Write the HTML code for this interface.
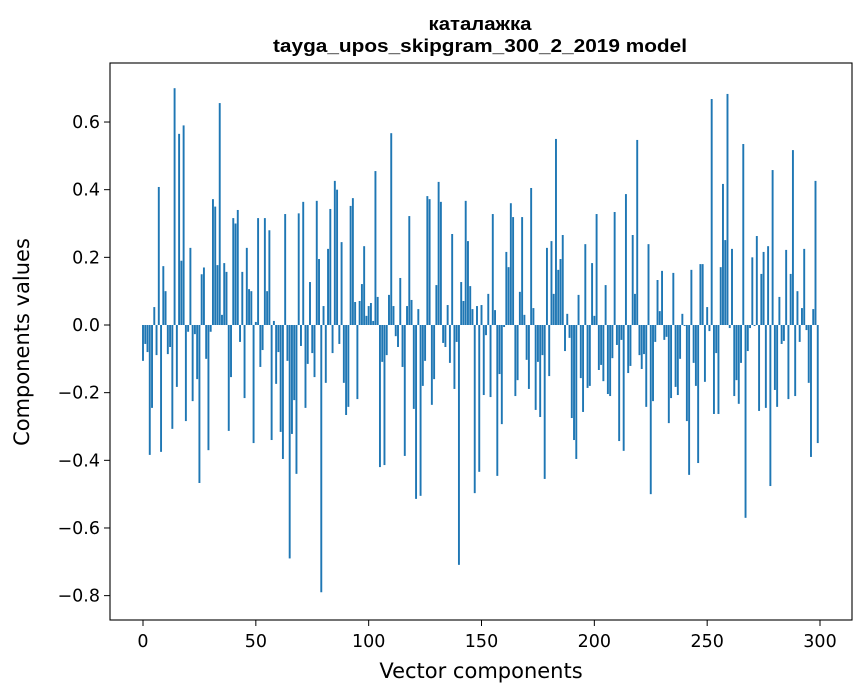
<!DOCTYPE html>
<html><head><meta charset="utf-8">
<style>
html,body{margin:0;padding:0;background:#fff;}
svg{display:block;font-family:"DejaVu Sans","Liberation Sans",sans-serif;}
</style></head>
<body>
<svg id="chart" width="867" height="696" viewBox="0 0 867 696" xmlns="http://www.w3.org/2000/svg">
<rect x="0" y="0" width="867" height="696" fill="#fff"/>
<text x="480" y="30" text-anchor="middle" font-size="18" font-weight="bold" font-family="Liberation Sans, sans-serif" textLength="103" lengthAdjust="spacingAndGlyphs">каталажка</text>
<text x="480" y="52" text-anchor="middle" font-size="18" font-weight="bold" font-family="Liberation Sans, sans-serif" textLength="414" lengthAdjust="spacingAndGlyphs">tayga_upos_skipgram_300_2_2019 model</text>
<g id="bars"></g>
<g id="xticks"></g>
<g id="yticks"></g>
<rect x="110" y="63" width="742" height="557" fill="none" stroke="#000" stroke-width="1.1"/>
<text x="481" y="678" text-anchor="middle" font-size="21">Vector components</text>
<text transform="translate(29,342) rotate(-90)" text-anchor="middle" font-size="21">Components values</text>
</svg>
<script>
const values = [
-0.106,-0.056,-0.08,-0.384,-0.245,0.053,-0.089,0.408,-0.375,0.174,
0.10,-0.086,-0.065,-0.307,0.70,-0.183,0.565,0.19,0.59,-0.284,
-0.02,0.228,-0.225,-0.027,-0.16,-0.467,0.15,0.17,-0.10,-0.37,
-0.02,0.372,0.35,0.177,0.656,0.03,0.183,0.157,-0.313,-0.154,
0.316,0.30,0.34,-0.05,0.157,-0.216,0.228,0.106,0.10,-0.349,
0.009,0.316,-0.124,-0.074,0.316,0.10,0.28,-0.34,0.012,-0.174,
-0.08,-0.316,-0.396,0.328,-0.106,-0.69,-0.322,-0.222,-0.44,0.33,
-0.062,0.364,-0.245,-0.115,0.127,-0.083,-0.154,0.367,0.195,-0.79,
0.056,-0.171,0.225,0.343,-0.083,0.426,0.40,-0.056,0.245,-0.171,
-0.266,-0.242,0.352,0.375,0.068,-0.219,0.071,0.121,0.233,0.027,
0.056,0.065,0.012,0.455,0.083,-0.42,-0.109,-0.414,-0.089,0.089,
0.567,0.056,-0.033,-0.065,0.139,-0.124,-0.387,0.056,0.322,0.074,
-0.248,-0.514,0.047,-0.505,-0.18,-0.106,0.381,0.372,-0.236,-0.16,
0.118,0.423,0.364,-0.053,-0.065,0.059,-0.112,0.269,-0.189,-0.05,
-0.709,0.127,0.071,0.367,0.248,0.115,0.047,-0.497,0.056,-0.434,
0.059,-0.207,-0.03,0.092,-0.213,0.328,0.044,-0.446,-0.145,-0.293,
-0.006,0.216,0.171,0.36,0.319,-0.21,-0.163,0.098,0.319,0.03,
-0.103,-0.189,0.405,0.05,-0.251,-0.109,-0.272,-0.089,-0.455,0.228,
-0.151,0.248,0.092,0.55,0.163,0.195,0.266,-0.077,0.033,-0.038,
-0.275,-0.34,-0.396,0.089,-0.157,-0.257,0.239,-0.186,-0.18,0.183,
0.027,0.328,-0.133,-0.118,-0.166,0.118,-0.204,-0.21,-0.098,0.334,
-0.059,-0.343,-0.044,-0.372,0.387,-0.142,-0.121,0.266,0.092,0.547,
-0.089,-0.13,-0.086,-0.242,0.239,-0.5,-0.225,-0.05,0.133,0.041,
0.16,-0.044,-0.035,-0.29,-0.216,0.154,-0.183,-0.207,-0.10,0.033,
-0.003,-0.284,-0.443,0.163,-0.112,-0.18,-0.408,0.18,0.18,-0.168,
0.053,-0.018,0.668,-0.263,-0.083,-0.263,0.171,0.417,0.251,0.683,
-0.009,0.225,-0.21,-0.163,-0.233,-0.112,0.535,-0.57,-0.077,-0.009,
0.2,-0.003,0.263,-0.254,0.151,0.216,-0.245,0.233,-0.476,0.458,
-0.192,-0.242,0.083,-0.056,-0.047,0.222,-0.219,0.151,0.517,-0.21,
0.10,-0.05,0.05,0.225,-0.015,-0.171,-0.39,0.047,0.426,-0.349
];
const xTickValues = [0,50,100,150,200,250,300];
const yTickValues = [-0.8,-0.6,-0.4,-0.2,0.0,0.2,0.4,0.6];
const yTickLabels = ["\u22120.8","\u22120.6","\u22120.4","\u22120.2","0.0","0.2","0.4","0.6"];

const NS = "http://www.w3.org/2000/svg";
const X0 = 143, XS = 2.2567;
const Y0 = 325, YS = 338.3;
function xScale(v){ return X0 + v*XS; }
function yScale(v){ return Y0 - v*YS; }

const barsG = document.getElementById('bars');
values.forEach(function(v,i){
  const r = document.createElementNS(NS,'rect');
  const w = 0.85*XS;
  const y1 = yScale(Math.max(v,0)), y2 = yScale(Math.min(v,0));
  r.setAttribute('x', xScale(i)-w/2);
  r.setAttribute('y', y1);
  r.setAttribute('width', w);
  r.setAttribute('height', Math.max(y2-y1,0.01));
  r.setAttribute('fill', '#1f77b4');
  
  
  barsG.appendChild(r);
});

const xg = document.getElementById('xticks');
xTickValues.forEach(function(t){
  const x = xScale(t);
  const l = document.createElementNS(NS,'line');
  l.setAttribute('x1',x); l.setAttribute('x2',x);
  l.setAttribute('y1',620); l.setAttribute('y2',626);
  l.setAttribute('stroke','#000');
  
  
  xg.appendChild(l);
  const tx = document.createElementNS(NS,'text');
  tx.setAttribute('x',x); tx.setAttribute('y',647);
  tx.setAttribute('text-anchor','middle'); tx.setAttribute('font-size','17.5');
  tx.textContent = String(t);
  
  
  xg.appendChild(tx);
});

const yg = document.getElementById('yticks');
yTickValues.forEach(function(t,i){
  const y = yScale(t);
  const l = document.createElementNS(NS,'line');
  l.setAttribute('x1',104); l.setAttribute('x2',110);
  l.setAttribute('y1',y); l.setAttribute('y2',y);
  l.setAttribute('stroke','#000');
  
  
  yg.appendChild(l);
  const tx = document.createElementNS(NS,'text');
  tx.setAttribute('x',100); tx.setAttribute('y',y+6);
  tx.setAttribute('text-anchor','end'); tx.setAttribute('font-size','17.5');
  tx.textContent = yTickLabels[i];
  
  
  yg.appendChild(tx);
});
</script>
</body></html>
